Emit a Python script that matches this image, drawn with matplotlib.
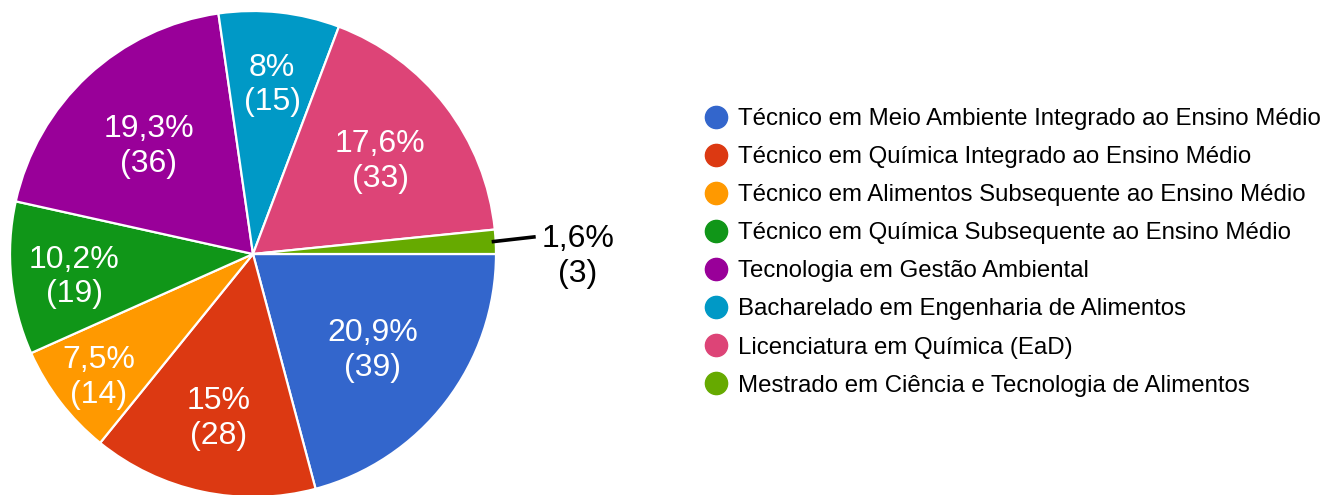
import numpy as np
import matplotlib.pyplot as plt
from matplotlib.lines import Line2D

cursos = [
    "Técnico em Meio Ambiente Integrado ao Ensino Médio",
    "Técnico em Química Integrado ao Ensino Médio",
    "Técnico em Alimentos Subsequente ao Ensino Médio",
    "Técnico em Química Subsequente ao Ensino Médio",
    "Tecnologia em Gestão Ambiental",
    "Bacharelado em Engenharia de Alimentos",
    "Licenciatura em Química (EaD)",
    "Mestrado em Ciência e Tecnologia de Alimentos",
]
respostas = [39, 28, 14, 19, 36, 15, 33, 3]
cores = ["#3366cc", "#dc3912", "#ff9900", "#109618",
         "#990099", "#0099c6", "#dd4477", "#66aa00"]

# label distance from centre (fraction of radius), layout only
dist_rotulo = [0.62, 0.67, 0.80, 0.74, 0.63, 0.72, 0.66, None]

total = sum(respostas)
plt.rcParams['font.family'] = ['Liberation Sans', 'DejaVu Sans']


def fmt_pct(v):
    s = f"{round(100 * v / total, 1):.1f}".replace('.', ',')
    if s.endswith(',0'):
        s = s[:-2]
    return s + "%"


fig = plt.figure(figsize=(13.37, 4.95), dpi=100)
ax = fig.add_axes([0, 0, 1, 1])

cx, cy, r = 253, 241, 243
wedges, _ = ax.pie(respostas, colors=cores, startangle=0, counterclock=False,
                   center=(cx, cy), radius=r,
                   wedgeprops=dict(edgecolor='white', linewidth=1.6))
ax.set_xlim(0, 1337)
ax.set_ylim(0, 495)
ax.set_aspect('equal')
ax.axis('off')

for w, v, d in zip(wedges, respostas, dist_rotulo):
    ang = np.deg2rad((w.theta1 + w.theta2) / 2)
    txt = f"{fmt_pct(v)}\n({v})"
    if d is None:
        ex, ey = cx + r * np.cos(ang), cy + r * np.sin(ang)
        ax.plot([ex - 4, ex + 40], [ey, ey + 5], color='black', lw=2.6,
                solid_capstyle='butt')
        ax.text(ex + 82, ey - 15, txt, ha='center', va='center',
                fontsize=23, color='black', linespacing=1.2)
    else:
        ax.text(cx + d * r * np.cos(ang), cy + d * r * np.sin(ang) - 5, txt,
                ha='center', va='center', fontsize=23, color='white',
                linespacing=1.2)

handles = [Line2D([], [], marker='o', linestyle='none', markersize=16,
                  markerfacecolor=c, markeredgecolor=c) for c in cores]
ax.legend(handles, cursos, loc='upper left',
          bbox_to_anchor=(704 / 1337, 1 - 108 / 495),
          frameon=False, fontsize=17.3, handlelength=1.0, handletextpad=0.42,
          labelspacing=0.67, borderpad=0, borderaxespad=0)

fig.savefig("out.png", dpi=100)
